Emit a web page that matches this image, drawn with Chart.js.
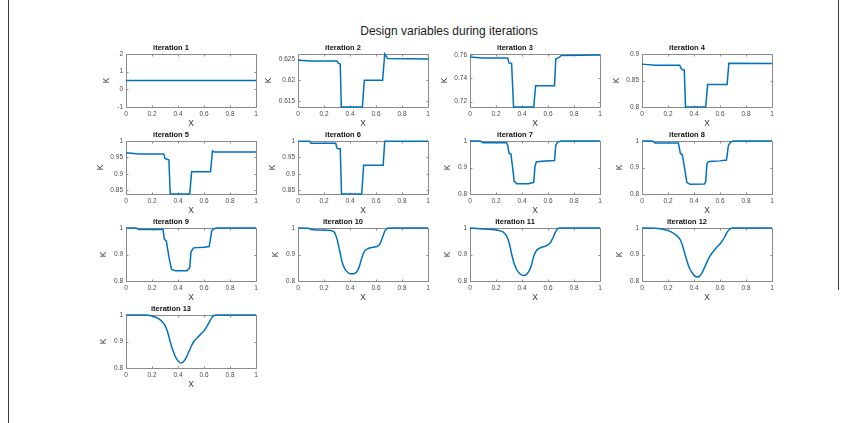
<!DOCTYPE html>
<html>
<head>
<meta charset="utf-8">
<script src="https://cdn.jsdelivr.net/npm/chart.js@4.4.1/dist/chart.umd.min.js"></script>
<style>
  html, body { margin: 0; padding: 0; background: #fff; }
  #fig { position: relative; width: 847px; height: 423px; overflow: hidden; background: #fff;
         font-family: "Liberation Sans", Arial, sans-serif; }
  #suptitle { position: absolute; left: 249px; width: 400px; top: 24px; text-align: center;
              font-size: 12px; line-height: 14px; color: #1a1a1a; }
  #fig canvas { position: absolute; }
  .edge { position: absolute; width: 1px; background: #3a3a3a; }
</style>
</head>
<body>
<div id="fig">
  <div class="edge" style="left:8px;top:0;height:423px;"></div>
  <div class="edge" style="left:838px;top:0;height:290px;"></div>
  <div id="suptitle">Design variables during iterations</div>
</div>
<script>
// Design variable K along X, one profile per optimisation iteration.
const iter1X = [0, 1];
const iter1K = [0.5, 0.5];

const iter2X = [0, 0.1, 0.3, 0.31, 0.325, 0.333, 0.495, 0.51, 0.651, 0.667, 0.69, 1];
const iter2K = [0.6247, 0.6245, 0.6245, 0.6240, 0.6238, 0.6135, 0.6135, 0.6199, 0.6199, 0.6262, 0.6251, 0.6250];

const iter3X = [0, 0.1, 0.29, 0.3, 0.32, 0.335, 0.49, 0.505, 0.65, 0.66, 0.68, 0.7, 1];
const iter3K = [0.7586, 0.7577, 0.7577, 0.7534, 0.7530, 0.7154, 0.7154, 0.7337, 0.7337, 0.7569, 0.7577, 0.7597, 0.7603];

const iter4X = [0, 0.1, 0.29, 0.3, 0.31, 0.325, 0.335, 0.49, 0.505, 0.655, 0.668, 1];
const iter4K = [0.8809, 0.8790, 0.8790, 0.8735, 0.8704, 0.8700, 0.8000, 0.8000, 0.8426, 0.8426, 0.8827, 0.8820];

const iter5X = [0, 0.1, 0.29, 0.3, 0.32, 0.33, 0.34, 0.49, 0.505, 0.65, 0.665, 0.68, 1];
const iter5K = [0.9645, 0.9604, 0.9604, 0.947, 0.944, 0.943, 0.839, 0.839, 0.9066, 0.9066, 0.970, 0.9665, 0.9665];

const iter6X = [0, 0.09, 0.1, 0.29, 0.3, 0.315, 0.325, 0.335, 0.49, 0.505, 0.655, 0.667, 1];
const iter6K = [0.999, 0.999, 0.9928, 0.9928, 0.978, 0.976, 0.976, 0.838, 0.838, 0.926, 0.926, 0.999, 0.999];

const iter7X = [0, 0.08, 0.1, 0.28, 0.29, 0.3, 0.315, 0.33, 0.34, 0.36, 0.45, 0.49, 0.5, 0.51, 0.55, 0.65, 0.66, 0.675, 0.7, 1];
const iter7K = [1.0, 1.0, 0.9938, 0.9938, 0.985, 0.954, 0.950, 0.891, 0.848, 0.839, 0.839, 0.844, 0.904, 0.921, 0.924, 0.926, 0.985, 0.996, 1.0, 1.0];

const iter8X = [0, 0.08, 0.1, 0.28, 0.295, 0.31, 0.33, 0.345, 0.37, 0.48, 0.49, 0.5, 0.515, 0.6, 0.65, 0.665, 0.68, 0.7, 1];
const iter8K = [1.0, 1.0, 0.9925, 0.9925, 0.953, 0.948, 0.891, 0.843, 0.837, 0.838, 0.847, 0.916, 0.923, 0.925, 0.928, 0.984, 0.995, 1.0, 1.0];

const iter9X = [0, 0.08, 0.1, 0.285, 0.295, 0.31, 0.33, 0.35, 0.38, 0.47, 0.49, 0.5, 0.52, 0.6, 0.64, 0.66, 0.68, 0.7, 1];
const iter9K = [1.0, 1.0, 0.994, 0.994, 0.9575, 0.951, 0.891, 0.844, 0.839, 0.839, 0.85, 0.91, 0.925, 0.9275, 0.93, 0.991, 0.9975, 1.0, 1.0];

const iter10X = [0, 0.08, 0.1, 0.15, 0.25, 0.28, 0.3, 0.32, 0.34, 0.36, 0.38, 0.4, 0.43, 0.45, 0.47, 0.49, 0.51, 0.54, 0.58, 0.61, 0.63, 0.65, 0.67, 0.69, 0.7, 1];
const iter10K = [1.0, 0.999, 0.994, 0.9925, 0.991, 0.984, 0.959, 0.915, 0.871, 0.846, 0.834, 0.8275, 0.8275, 0.834, 0.852, 0.886, 0.911, 0.9225, 0.9275, 0.931, 0.94, 0.965, 0.99, 0.999, 1.0, 1.0];

const iter11X = [0, 0.1, 0.2, 0.25, 0.28, 0.3, 0.32, 0.34, 0.36, 0.38, 0.41, 0.43, 0.45, 0.47, 0.49, 0.51, 0.54, 0.57, 0.6, 0.62, 0.64, 0.66, 0.68, 0.7, 1];
const iter11K = [1.0, 0.996, 0.9925, 0.986, 0.971, 0.946, 0.9025, 0.865, 0.8425, 0.829, 0.821, 0.8225, 0.834, 0.856, 0.8925, 0.914, 0.925, 0.93, 0.936, 0.946, 0.965, 0.9875, 0.999, 1.0, 1.0];

const iter12X = [0, 0.1, 0.15, 0.2, 0.25, 0.28, 0.3, 0.32, 0.34, 0.36, 0.38, 0.4, 0.42, 0.44, 0.46, 0.48, 0.5, 0.52, 0.55, 0.58, 0.6, 0.62, 0.64, 0.66, 0.68, 0.7, 1];
const iter12K = [1.0, 0.999, 0.996, 0.99, 0.978, 0.965, 0.95, 0.92, 0.885, 0.855, 0.835, 0.822, 0.815, 0.817, 0.83, 0.85, 0.872, 0.892, 0.912, 0.93, 0.94, 0.953, 0.97, 0.988, 0.998, 1.0, 1.0];

const iter13X = [0, 0.1, 0.15, 0.2, 0.25, 0.28, 0.3, 0.32, 0.34, 0.36, 0.38, 0.4, 0.42, 0.44, 0.46, 0.48, 0.5, 0.52, 0.55, 0.58, 0.6, 0.62, 0.64, 0.66, 0.68, 0.7, 1];
const iter13K = [1.0, 1.0, 1.0, 0.996, 0.986, 0.974, 0.961, 0.936, 0.899, 0.8675, 0.8425, 0.8275, 0.819, 0.8225, 0.836, 0.8575, 0.88, 0.899, 0.915, 0.93, 0.94, 0.955, 0.9725, 0.99, 0.999, 1.0, 1.0];

const allX = [iter1X, iter2X, iter3X, iter4X, iter5X, iter6X, iter7X, iter8X, iter9X, iter10X, iter11X, iter12X, iter13X];
const allK = [iter1K, iter2K, iter3K, iter4K, iter5K, iter6K, iter7K, iter8K, iter9K, iter10K, iter11K, iter12K, iter13K];

// K axis limits and tick values per iteration
const kLimits = [[-1, 2], [0.6135, 0.6262], [0.7154, 0.7611], [0.8, 0.9], [0.839, 1], [0.838, 1],
                 [0.8, 1], [0.8, 1], [0.8, 1], [0.8, 1], [0.8, 1], [0.8, 1], [0.8, 1]];
const kTicks = [[-1, 0, 1, 2], [0.615, 0.62, 0.625], [0.72, 0.74, 0.76], [0.8, 0.85, 0.9],
                [0.85, 0.9, 0.95, 1], [0.85, 0.9, 0.95, 1], [0.8, 0.9, 1], [0.8, 0.9, 1], [0.8, 0.9, 1],
                [0.8, 0.9, 1], [0.8, 0.9, 1], [0.8, 0.9, 1], [0.8, 0.9, 1]];
const xTicks = [0, 0.2, 0.4, 0.6, 0.8, 1];
const smoothFrom = 9; // iterations 10+ are smooth profiles

// layout of the subplot grid (px)
const FONT = '"Liberation Sans", Arial, sans-serif';
const AX_W = 130, AX_H = 53, Y_BOX = 40, X_BOX = 22, TITLE_H = 12, PAD_R = 6;
const COL_LEFT = [126, 298, 470, 642];
const ROW_TOP = [54, 141, 228, 315];
const AXIS_GRAY = '#8a8a8a';

// box around the axes plus short inward tick marks on all four sides (drawn under the curve)
const axesBox = {
  id: 'axesBox',
  afterLayout(chart) {
    const s = chart.scales.y;
    if (s._natW) s.left = s.right - s._natW;
  },
  beforeDatasetsDraw(chart) {
    const {ctx, chartArea: a, scales} = chart;
    const L = Math.round(a.left) + 0.5, T = Math.round(a.top) + 0.5;
    const R = Math.round(a.right) + 0.5, B = Math.round(a.bottom) + 0.5;
    ctx.save();
    ctx.strokeStyle = AXIS_GRAY;
    ctx.lineWidth = 1;
    ctx.beginPath();
    ctx.rect(L, T, R - L, B - T);
    scales.x.ticks.forEach(t => {
      const px = Math.round(scales.x.getPixelForValue(t.value)) + 0.5;
      ctx.moveTo(px, B); ctx.lineTo(px, B - 2);
      ctx.moveTo(px, T); ctx.lineTo(px, T + 2);
    });
    scales.y.ticks.forEach(t => {
      const py = Math.round(scales.y.getPixelForValue(t.value)) + 0.5;
      ctx.moveTo(L, py); ctx.lineTo(L + 2, py);
      ctx.moveTo(R, py); ctx.lineTo(R - 2, py);
    });
    ctx.stroke();
    ctx.restore();
  }
};

const fig = document.getElementById('fig');
allX.forEach((xs, i) => {
  const col = i % 4, row = Math.floor(i / 4);
  const cv = document.createElement('canvas');
  const W = Y_BOX + AX_W + PAD_R, H = TITLE_H + AX_H + X_BOX;
  cv.width = W; cv.height = H;
  cv.style.width = W + 'px'; cv.style.height = H + 'px';
  cv.style.left = (COL_LEFT[col] - Y_BOX) + 'px';
  cv.style.top = (ROW_TOP[row] - TITLE_H) + 'px';
  fig.appendChild(cv);
  const smooth = i >= smoothFrom;
  new Chart(cv, {
    type: 'line',
    data: {
      datasets: [{
        data: xs.map((x, j) => ({x: x, y: allK[i][j]})),
        borderColor: '#0072BD',
        borderWidth: 1.5,
        pointRadius: 0,
        fill: false,
        clip: 2,
        tension: smooth ? 0.4 : 0,
        cubicInterpolationMode: smooth ? 'monotone' : 'default'
      }]
    },
    options: {
      responsive: false,
      animation: false,
      events: [],
      layout: {padding: {left: 0, right: PAD_R, top: 0, bottom: 0}},
      plugins: {
        legend: {display: false},
        tooltip: {enabled: false},
        title: {
          display: true,
          text: 'iteration ' + (i + 1),
          color: '#111',
          font: {family: FONT, size: 7.5, weight: 'bold', lineHeight: 1.2},
          padding: {top: 1, bottom: 2}
        }
      },
      scales: {
        x: {
          type: 'linear',
          min: 0, max: 1,
          afterBuildTicks: s => { s.ticks = xTicks.map(v => ({value: v})); },
          afterFit: s => { s.height = X_BOX; },
          grid: {display: false, drawTicks: false},
          border: {display: false},
          ticks: {font: {family: FONT, size: 6.5}, color: '#4a4a4a', padding: 3,
                  maxRotation: 0, autoSkip: false, callback: v => String(v)},
          title: {display: true, text: 'X', color: '#333', font: {family: FONT, size: 8.5},
                  padding: {top: 1, bottom: 0}}
        },
        y: {
          type: 'linear',
          min: kLimits[i][0], max: kLimits[i][1],
          afterBuildTicks: s => { s.ticks = kTicks[i].map(v => ({value: v})); },
          afterFit: s => { s._natW = s.width; s.width = Y_BOX; },
          grid: {display: false, drawTicks: false},
          border: {display: false},
          ticks: {font: {family: FONT, size: 6.5}, color: '#4a4a4a', padding: 3,
                  autoSkip: false, callback: v => String(v)},
          title: {display: true, text: 'K', color: '#333', font: {family: FONT, size: 8.5},
                  padding: {top: 0, bottom: 2}}
        }
      }
    },
    plugins: [axesBox]
  });
});
</script>
</body>
</html>
